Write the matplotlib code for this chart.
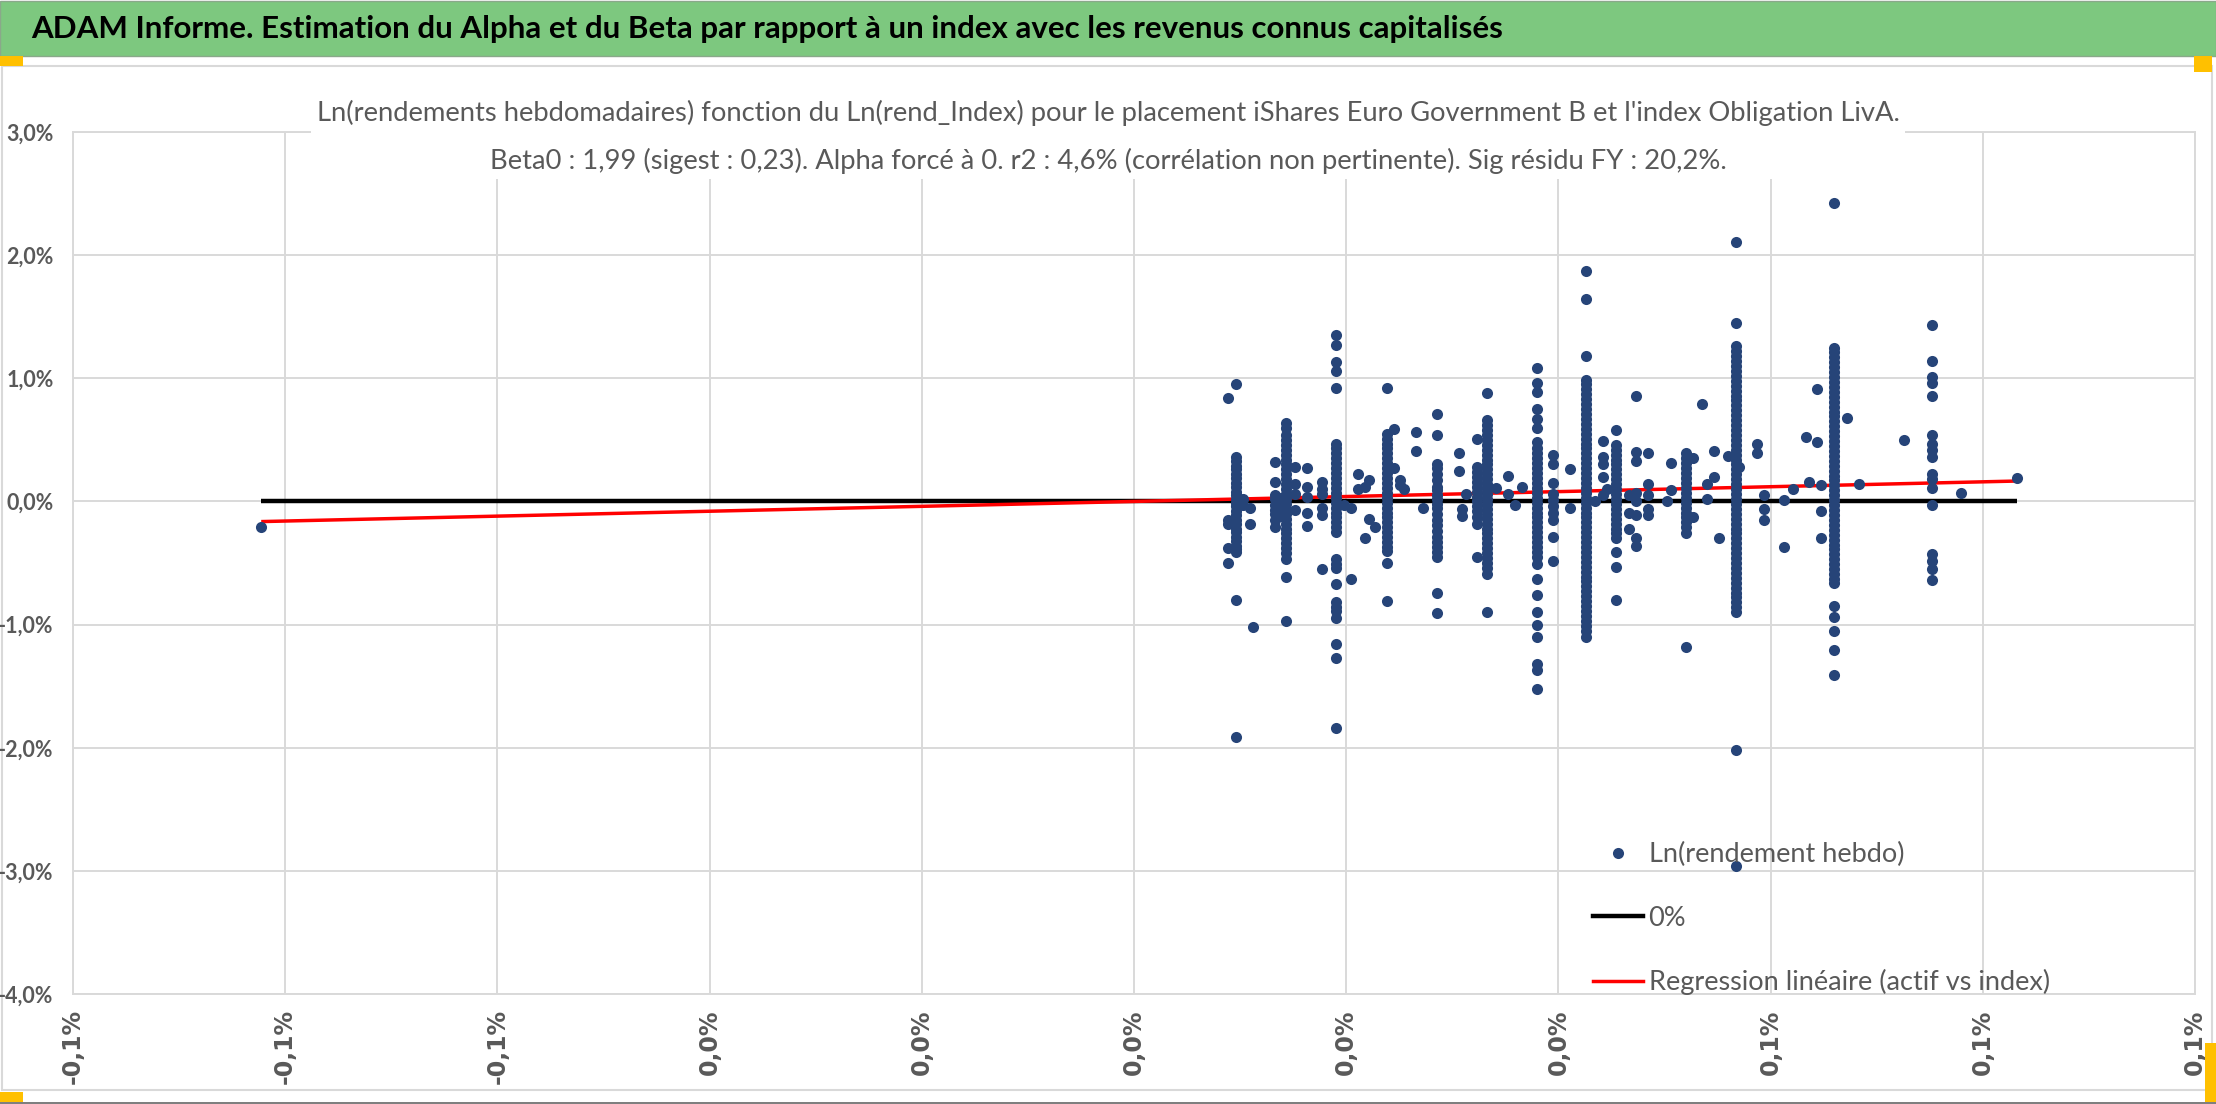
import matplotlib
matplotlib.use("Agg")
import matplotlib.pyplot as plt
from matplotlib.lines import Line2D
from matplotlib.patches import Rectangle

# ---------------- data (values in %) ----------------
title = "ADAM Informe. Estimation du Alpha et du Beta par rapport à un index avec les revenus connus capitalisés"
subtitle = ("Ln(rendements hebdomadaires) fonction du Ln(rend_Index) pour le placement iShares Euro Government B et l'index Obligation LivA.\n"
            "Beta0 : 1,99 (sigest : 0,23). Alpha forcé à 0. r2 : 4,6% (corrélation non pertinente). Sig résidu FY : 20,2%.")
legend_labels = ["Ln(rendement hebdo)", "0%", "Regression linéaire (actif vs index)"]
beta0 = 1.99

x_ticks = [-0.10, -0.08, -0.06, -0.04, -0.02, 0.0, 0.02, 0.04, 0.06, 0.08, 0.10]
y_ticks = [3.0, 2.0, 1.0, 0.0, -1.0, -2.0, -3.0, -4.0]

# main (dense) columns: index weekly log-return -> list of asset weekly log-returns
main_x = [0.00961, 0.01432, 0.01903, 0.02384, 0.02855, 0.03232, 0.03326, 0.03797,
          0.04259, 0.04542, 0.05201, 0.05673, 0.06596, 0.07519]
col_00961 = [0.95, 0.36, 0.33, 0.29, 0.26, 0.22, 0.19, 0.15, 0.12, 0.08, 0.05, 0.02, -0.01, -0.04,
             -0.08, -0.11, -0.15, -0.18, -0.22, -0.25, -0.29, -0.32, -0.36, -0.39, -0.41, -0.80, -1.91]
col_01432 = [0.64, 0.60, 0.54, 0.50, 0.46, 0.42, 0.38, 0.34, 0.30, 0.26, 0.22, 0.18, 0.14, 0.10, 0.06,
             0.02, -0.02, -0.06, -0.10, -0.14, -0.18, -0.22, -0.26, -0.30, -0.34, -0.38, -0.42, -0.47,
             -0.61, -0.97]
col_01903 = [1.35, 1.27, 1.13, 1.06, 0.92, 0.47, 0.43, 0.39, 0.35, 0.31, 0.27, 0.23, 0.19, 0.15, 0.11,
             0.07, 0.03, -0.01, -0.05, -0.09, -0.13, -0.17, -0.21, -0.25, -0.47, -0.51, -0.54, -0.67,
             -0.82, -0.86, -0.89, -0.95, -1.16, -1.27, -1.84]
col_02384 = [0.92, 0.55, 0.51, 0.47, 0.43, 0.39, 0.35, 0.31, 0.27, 0.23, 0.19, 0.15, 0.11, 0.07, 0.03,
             -0.01, -0.05, -0.09, -0.13, -0.17, -0.21, -0.25, -0.29, -0.33, -0.37, -0.40, -0.50, -0.81]
col_02855 = [0.71, 0.54, 0.30, 0.27, 0.22, 0.17, 0.12, 0.09, 0.05, 0.02, -0.02, -0.05, -0.10, -0.15,
             -0.19, -0.24, -0.29, -0.33, -0.37, -0.41, -0.45, -0.74, -0.91]
col_03232 = [0.51, 0.28, 0.24, 0.20, 0.16, 0.12, 0.08, 0.04, 0.00, -0.04, -0.08, -0.13, -0.18, -0.45]
col_03326 = [0.88, 0.66, 0.62, 0.58, 0.54, 0.50, 0.46, 0.42, 0.38, 0.34, 0.30, 0.26, 0.22, 0.18, 0.14,
             0.10, 0.06, 0.02, -0.02, -0.06, -0.10, -0.14, -0.18, -0.22, -0.26, -0.30, -0.34, -0.38,
             -0.42, -0.46, -0.50, -0.54, -0.59, -0.90]
col_03797 = [1.08, 0.96, 0.89, 0.75, 0.67, 0.60, 0.48, 0.43, 0.39, 0.35, 0.31, 0.27, 0.23, 0.19, 0.15,
             0.11, 0.07, 0.03, -0.01, -0.05, -0.09, -0.13, -0.17, -0.21, -0.25, -0.29, -0.33, -0.37,
             -0.41, -0.45, -0.51, -0.63, -0.76, -0.90, -1.00, -1.10, -1.32, -1.37, -1.52]
col_04259 = [1.87, 1.64, 1.18, 0.99, 0.95, 0.91, 0.87, 0.83, 0.79, 0.75, 0.71, 0.67, 0.63, 0.59, 0.55,
             0.51, 0.47, 0.43, 0.39, 0.35, 0.31, 0.27, 0.23, 0.19, 0.15, 0.11, 0.07, 0.03, -0.01, -0.05,
             -0.09, -0.13, -0.17, -0.21, -0.25, -0.29, -0.33, -0.37, -0.41, -0.45, -0.49, -0.53, -0.57,
             -0.61, -0.65, -0.69, -0.73, -0.77, -0.81, -0.85, -0.89, -0.93, -0.97, -1.01, -1.05, -1.10]
col_04542 = [0.58, 0.46, 0.42, 0.38, 0.34, 0.30, 0.26, 0.22, 0.18, 0.14, 0.10, 0.06, 0.02, -0.02, -0.06,
             -0.10, -0.14, -0.18, -0.22, -0.26, -0.30, -0.41, -0.53, -0.80]
col_05201 = [0.39, 0.35, 0.31, 0.27, 0.23, 0.19, 0.15, 0.11, 0.07, 0.03, -0.01, -0.05, -0.09, -0.13,
             -0.17, -0.21, -0.26, -1.18]
col_05673 = [2.11, 1.45, 1.26, 1.22, 1.18, 1.14, 1.10, 1.06, 1.02, 0.98, 0.94, 0.90, 0.86, 0.82, 0.78,
             0.74, 0.70, 0.66, 0.62, 0.58, 0.54, 0.50, 0.46, 0.42, 0.38, 0.34, 0.30, 0.26, 0.22, 0.18,
             0.14, 0.10, 0.06, 0.02, -0.02, -0.06, -0.10, -0.14, -0.18, -0.22, -0.26, -0.30, -0.34,
             -0.38, -0.42, -0.46, -0.50, -0.54, -0.58, -0.62, -0.66, -0.70, -0.74, -0.78, -0.82, -0.86,
             -0.90, -2.02, -2.96]
col_06596 = [2.42, 1.25, 1.21, 1.17, 1.13, 1.09, 1.05, 1.01, 0.97, 0.93, 0.89, 0.85, 0.81, 0.77, 0.73,
             0.69, 0.65, 0.61, 0.57, 0.53, 0.49, 0.45, 0.41, 0.37, 0.33, 0.29, 0.25, 0.21, 0.17, 0.13,
             0.09, 0.05, 0.01, -0.03, -0.07, -0.11, -0.15, -0.19, -0.23, -0.27, -0.31, -0.35, -0.39,
             -0.43, -0.47, -0.51, -0.55, -0.59, -0.63, -0.66, -0.85, -0.94, -1.05, -1.21, -1.41]
col_07519 = [1.43, 1.14, 1.01, 0.96, 0.86, 0.54, 0.47, 0.42, 0.36, 0.22, 0.18, 0.11, -0.03, -0.43,
             -0.48, -0.55, -0.64]
main_y = [col_00961, col_01432, col_01903, col_02384, col_02855, col_03232, col_03326, col_03797,
          col_04259, col_04542, col_05201, col_05673, col_06596, col_07519]

# sparse columns
sparse_x = [-0.08226, 0.00886, 0.01027, 0.01093, 0.01121, 0.01329, 0.01385, 0.01517, 0.01630,
            0.01772, 0.01979, 0.02045, 0.02111, 0.02177, 0.02214, 0.02271, 0.02450, 0.02507,
            0.02544, 0.02657, 0.02723, 0.03063, 0.03091, 0.03128, 0.03411, 0.03524, 0.03590,
            0.03656, 0.03948, 0.04108, 0.04344, 0.04419, 0.04457, 0.04664, 0.04730, 0.04843,
            0.05022, 0.05060, 0.05267, 0.05352, 0.05399, 0.05465, 0.05512, 0.05597, 0.05701,
            0.05870, 0.05936, 0.06125, 0.06210, 0.06332, 0.06360, 0.06436, 0.06474, 0.06718,
            0.06832, 0.07256, 0.07793, 0.08320]
sparse_y = [[-0.21], [0.84, -0.15, -0.18, -0.38, -0.50], [0.02, -0.03], [-0.05, -0.18], [-1.02],
            [0.32, 0.16, 0.05, 0.02, -0.03, -0.07, -0.10, -0.15, -0.21], [0.03, -0.05, -0.12],
            [0.28, 0.14, 0.06, -0.07], [0.27, 0.12, 0.04, -0.09, -0.20],
            [0.16, 0.10, 0.06, -0.05, -0.11, -0.55], [-0.03], [-0.05, -0.63], [0.22, 0.10],
            [0.12, -0.30], [0.17, -0.14], [-0.21], [0.59, 0.27], [0.17, 0.13], [0.10], [0.56, 0.41],
            [-0.05], [0.39, 0.25], [-0.06, -0.12], [0.06], [0.11], [0.21, 0.06], [-0.03], [0.12],
            [0.38, 0.30, 0.15, 0.06, 0.01, -0.04, -0.09, -0.15, -0.29, -0.48], [0.26, -0.05], [0.00],
            [0.49, 0.36, 0.30, 0.20, 0.05], [0.10], [0.05, -0.09, -0.22],
            [0.86, 0.40, 0.33, 0.07, 0.00, -0.11, -0.30, -0.36], [0.39, 0.14, 0.05, -0.06, -0.11],
            [0.00], [0.31, 0.09], [0.35, -0.13], [0.79], [0.14, 0.02], [0.41, 0.20], [-0.30], [0.37],
            [0.28], [0.47, 0.39], [0.05, -0.06, -0.15], [0.01, -0.37], [0.10], [0.52], [0.16],
            [0.91, 0.48], [0.13, -0.08, -0.30], [0.68], [0.14], [0.50], [0.07], [0.19]]

# ---------------- figure ----------------
W, H = 2216, 1104
fig = plt.figure(figsize=(W / 100, H / 100), dpi=100)
fig.patch.set_facecolor("white")

SANS = ["Lato", "DejaVu Sans"]
GRAY = "#595959"
GRID = "#d9d9d9"
NAVY = "#264478"
MS = 8.0


def fx(px):
    return px / W


def fy(py):
    return 1 - py / H


def frect(x0, y0, x1, y1, **kw):
    r = Rectangle((fx(x0), fy(y1)), fx(x1) - fx(x0), fy(y0) - fy(y1),
                  transform=fig.transFigure, **kw)
    fig.add_artist(r)


# banner and chart frame
frect(0, 1, W, 56, facecolor="#7dc87f", edgecolor="#8aa88a", lw=1.0, zorder=0)
frect(2, 66, 2212, 1090, facecolor="none", edgecolor=GRID, lw=1.5, zorder=0)
frect(0, 56, 23, 66, facecolor="#ffc000", edgecolor="none", zorder=1)
frect(2194, 56, 2212, 72, facecolor="#ffc000", edgecolor="none", zorder=1)
frect(0, 1092, 23, 1102, facecolor="#ffc000", edgecolor="none", zorder=1)
frect(2205, 1043, 2216, 1102, facecolor="#ffc000", edgecolor="none", zorder=1)
frect(0, 1102, W, H, facecolor="#7f7f7f", edgecolor="none", zorder=1)

fig.text(fx(31), fy(29), title, ha="left", va="center", fontsize=22.5,
         fontweight="bold", family=SANS, color="black")

ax = fig.add_axes([fx(73), fy(994), fx(2195) - fx(73), fy(132) - fy(994)])
ax.set_xlim(x_ticks[0], x_ticks[-1])
ax.set_ylim(y_ticks[-1], y_ticks[0])

all_x, all_y = [], []
for cx, ys in zip(main_x + sparse_x, main_y + sparse_y):
    all_x.extend([cx] * len(ys))
    all_y.extend(ys)

xmin, xmax = min(all_x), max(all_x)
ax.plot([xmin, xmax], [0, 0], color="black", lw=3.2, zorder=2, solid_capstyle="butt")
ax.plot([xmin, xmax], [beta0 * xmin, beta0 * xmax], color="red", lw=2.5, zorder=3,
        solid_capstyle="butt")
ax.plot(all_x, all_y, "o", ms=MS, color=NAVY, mec="none", zorder=4)


def pct(v):
    return f"{round(v, 1) + 0.0:.1f}".replace(".", ",") + "%"


ax.set_xticks(x_ticks, labels=[pct(v) for v in x_ticks], rotation=90, fontsize=17,
              fontweight="bold", family="DejaVu Sans", color=GRAY)
ax.set_yticks(y_ticks, labels=[pct(v) for v in y_ticks], fontsize=15.5,
              fontweight="bold", family=SANS, color=GRAY)
ax.tick_params(axis="x", length=0, pad=11)
ax.tick_params(axis="y", length=0, pad=14)
for lbl in ax.get_xticklabels():
    lbl.set_zorder(5)
ax.grid(True, color=GRID, lw=1.4)
ax.set_axisbelow(True)
for s in ax.spines.values():
    s.set_color(GRID)
    s.set_linewidth(1.4)

handles = [Line2D([], [], ls="none", marker="o", ms=MS, color=NAVY, mec="none"),
           Line2D([], [], color="black", lw=3.2),
           Line2D([], [], color="red", lw=2.5)]
leg = ax.legend(handles, legend_labels, loc="upper left",
                bbox_to_anchor=(fx(1593), fy(842)), bbox_transform=fig.transFigure,
                frameon=False, borderpad=0, borderaxespad=0, handlelength=1.85,
                handletextpad=0.2, labelspacing=1.42,
                prop={"family": SANS, "size": 19.5})
for t in leg.get_texts():
    t.set_color(GRAY)

fig.text(0.5, fy(137), subtitle, ha="center", va="center", fontsize=19.7, color=GRAY,
         family=SANS, linespacing=2.0, zorder=5,
         bbox=dict(facecolor="white", edgecolor="none", pad=4))

fig.savefig("out.png", dpi=100)
